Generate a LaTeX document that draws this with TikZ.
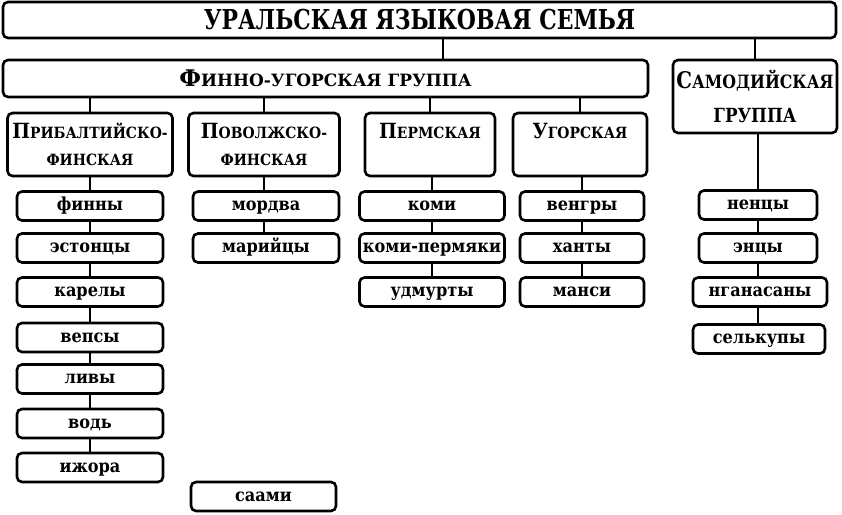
\documentclass[tikz,border=0pt]{standalone}
\usepackage{fontspec}
\setmainfont{DejaVu Serif}
\newcommand{\smc}[1]{\scalebox{0.74}{#1}}
\newcommand{\leaffont}{\fontsize{18}{20}\selectfont\bfseries}
\newcommand{\grpfont}{\fontsize{21}{27}\selectfont\bfseries}
\tikzset{
  box/.style={draw, line width=2.6bp, rounded corners=5bp, inner sep=0pt, align=center},
  leafbox/.style={box, minimum height=29bp, text height=9.4bp, text depth=0bp, font=\leaffont},
  grpbox/.style={box, minimum height=63bp, font=\grpfont},
  link/.style={line width=1.8bp},
}
\begin{document}
\begin{tikzpicture}[x=1bp,y=1bp]
  \useasboundingbox (0,0) rectangle (842,515);
  % Node: uralic
  \node[box, minimum width=833bp, minimum height=36bp, font=\fontsize{27.5}{30}\selectfont\bfseries]
    (uralic) at (419.5,495) {\scalebox{0.8}[1]{УРАЛЬСКАЯ ЯЗЫКОВАЯ СЕМЬЯ}};
  % Node: finnougric
  \node[box, minimum width=645bp, minimum height=37bp, font=\fontsize{23}{26}\selectfont\bfseries]
    (finnougric) at (325.5,436.5) {Ф\smc{ИННО-УГОРСКАЯ ГРУППА}};
  % Node: samoyedic
  \node[box, minimum width=164bp, minimum height=73bp, font=\fontsize{23}{34}\selectfont\bfseries]
    (samoyedic) at (755,418.5) {\scalebox{0.86}[1]{С\scalebox{0.8}{АМОДИЙСКАЯ}}\\\scalebox{0.86}[1]{\scalebox{0.85}{ГРУППА}}};
  % Node: baltic
  \node[grpbox, minimum width=165bp] (baltic) at (90,370.5)
    {\scalebox{0.9}[1]{П\smc{РИБАЛТИЙСКО-}}\\\scalebox{0.9}[1]{\smc{ФИНСКАЯ}}};
  % Node: volga
  \node[grpbox, minimum width=151bp] (volga) at (264,370.5)
    {\scalebox{0.9}[1]{П\smc{ОВОЛЖСКО-}}\\\scalebox{0.9}[1]{\smc{ФИНСКАЯ}}};
  % Node: permic
  \node[grpbox, minimum width=130bp] (permic) at (430,370.5)
    {\scalebox{0.9}[1]{П\smc{ЕРМСКАЯ}}\\\mbox{}};
  % Node: ugric
  \node[grpbox, minimum width=134bp] (ugric) at (580,370.5)
    {\scalebox{0.9}[1]{У\smc{ГОРСКАЯ}}\\\mbox{}};
  % Node: finns .. izhorians
  \node[leafbox, minimum width=146bp] (finns) at (90,309) {\scalebox{0.9}[1]{финны}};
  \node[leafbox, minimum width=146bp] (estonians) at (90,267) {\scalebox{0.9}[1]{эстонцы}};
  \node[leafbox, minimum width=146bp] (karelians) at (90,223) {\scalebox{0.9}[1]{карелы}};
  \node[leafbox, minimum width=146bp] (vepsians) at (90,177.5) {\scalebox{0.9}[1]{вепсы}};
  \node[leafbox, minimum width=146bp] (livonians) at (90,136) {\scalebox{0.9}[1]{ливы}};
  \node[leafbox, minimum width=146bp] (votes) at (90,91.5) {\scalebox{0.9}[1]{водь}};
  \node[leafbox, minimum width=146bp] (izhorians) at (90,47.5) {\scalebox{0.9}[1]{ижора}};
  % Node: mordva, mari, saami
  \node[leafbox, minimum width=146bp] (mordva) at (266,309) {\scalebox{0.9}[1]{мордва}};
  \node[leafbox, minimum width=146bp] (mari) at (266,267) {\scalebox{0.9}[1]{марийцы}};
  \node[leafbox, minimum width=145bp] (saami) at (263.5,18.5) {\scalebox{0.9}[1]{саами}};
  % Node: komi, komipermyaks, udmurts
  \node[leafbox, minimum width=145bp] (komi) at (432,309) {\scalebox{0.9}[1]{коми}};
  \node[leafbox, minimum width=145bp] (komipermyaks) at (432,267) {\scalebox{0.9}[1]{коми-пермяки}};
  \node[leafbox, minimum width=145bp] (udmurts) at (432,223) {\scalebox{0.9}[1]{удмурты}};
  % Node: hungarians, khanty, mansi
  \node[leafbox, minimum width=124bp] (hungarians) at (582,309) {\scalebox{0.9}[1]{венгры}};
  \node[leafbox, minimum width=124bp] (khanty) at (582,267) {\scalebox{0.9}[1]{ханты}};
  \node[leafbox, minimum width=124bp] (mansi) at (582,223) {\scalebox{0.9}[1]{манси}};
  % Node: nenets .. selkups
  \node[leafbox, minimum width=118bp] (nenets) at (758,310) {\scalebox{0.9}[1]{ненцы}};
  \node[leafbox, minimum width=118bp] (enets) at (758,267) {\scalebox{0.9}[1]{энцы}};
  \node[leafbox, minimum width=134bp] (nganasans) at (760,223) {\scalebox{0.9}[1]{нганасаны}};
  \node[leafbox, minimum width=132bp] (selkups) at (759,176) {\scalebox{0.9}[1]{селькупы}};
  % Edge: uralic -> finnougric, samoyedic
  \coordinate (fujoin) at (443,0);
  \draw[link] (uralic.south -| fujoin) -- (finnougric.north -| fujoin);
  \draw[link] (uralic.south -| samoyedic.north) -- (samoyedic.north);
  % Edge: finnougric -> groups
  \draw[link] (finnougric.south -| baltic.north) -- (baltic.north);
  \draw[link] (finnougric.south -| volga.north) -- (volga.north);
  \draw[link] (finnougric.south -| permic.north) -- (permic.north);
  \draw[link] (finnougric.south -| ugric.north) -- (ugric.north);
  % Edge: baltic chain
  \draw[link] (baltic.south) -- (finns.north -| baltic.south);
  \draw[link] (finns) -- (estonians) (estonians) -- (karelians) (karelians) -- (vepsians)
    (vepsians) -- (livonians) (livonians) -- (votes) (votes) -- (izhorians);
  % Edge: volga chain
  \draw[link] (volga.south) -- (mordva.north -| volga.south);
  \draw[link] (mordva.south -| volga.south) -- (mari.north -| volga.south);
  % Edge: permic chain
  \draw[link] (permic.south -| komi.north) -- (komi.north);
  \draw[link] (komi) -- (komipermyaks) (komipermyaks) -- (udmurts);
  % Edge: ugric chain
  \draw[link] (ugric.south -| hungarians.north) -- (hungarians.north);
  \draw[link] (hungarians) -- (khanty) (khanty) -- (mansi);
  % Edge: samoyedic chain
  \draw[link] (samoyedic.south -| nenets.north) -- (nenets.north);
  \draw[link] (nenets) -- (enets) (enets.south) -- (nganasans.north -| enets.south)
    (nganasans.south -| enets.south) -- (selkups.north -| enets.south);
\end{tikzpicture}
\end{document}
